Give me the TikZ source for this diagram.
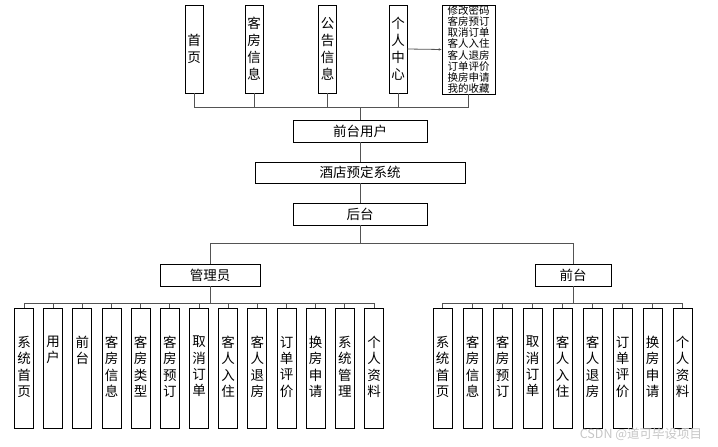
\documentclass[tikz,border=0pt]{standalone}
\usepackage{fontspec}
\newfontfamily\cjk{Noto Sans CJK SC}
\usetikzlibrary{arrows.meta}
\tikzset{
  box/.style={draw=black, line width=0.8pt, fill=white, inner sep=0pt, font=\cjk\fontsize{13.5}{16}\selectfont},
  topbox/.style={box, minimum width=18pt, minimum height=88pt, align=center, font=\cjk\fontsize{13.5}{17}\selectfont},
  leafbox/.style={box, minimum width=19pt, minimum height=120pt},
  leaftext/.style={inner sep=0pt, align=center, anchor=north, font=\cjk\fontsize{13.5}{16.3}\selectfont},
  conn/.style={line width=0.8pt, draw=gray!65!black},
}
\newcommand\twoch[2]{#1\\#2\\\phantom{#2}\\\phantom{#2}}
\begin{document}
\begin{tikzpicture}[x=1pt,y=-1pt]
\useasboundingbox (0,0) rectangle (718,447);
% top row
\node[topbox] (sy) at (194,49) {首\\页};
\node[topbox] (kf) at (254,49) {客\\房\\信\\息};
\node[topbox] (gg) at (327.5,49) {公\\告\\信\\息};
\node[topbox] (gr) at (398,49) {个\\人\\中\\心};
\node[box, minimum width=53pt, minimum height=89pt, align=center, font=\cjk\fontsize{10.5}{11.2}\selectfont] (rb) at (468.5,49.5) {修改密码\\客房预订\\取消订单\\客人入住\\客人退房\\订单评价\\换房申请\\我的收藏};
\draw[conn, -{Stealth[length=3pt,width=2.5pt]}] (gr.east) -- (rb.west);
\coordinate (tb) at (360,107);
\draw[conn] (sy.south) -- (sy.south |- tb) -- (rb.south |- tb) -- (rb.south);
\draw[conn] (kf.south) -- (kf.south |- tb);
\draw[conn] (gg.south) -- (gg.south |- tb);
\draw[conn] (gr.south) -- (gr.south |- tb);
% middle
\node[box, minimum width=134pt, minimum height=22pt] (qt) at (360,131) {前台用户};
\node[box, minimum width=210pt, minimum height=21pt] (sys) at (360,172.5) {酒店预定系统};
\node[box, minimum width=134pt, minimum height=22pt] (ht) at (360,214) {后台};
\draw[conn] (tb) -- (qt.north);
\draw[conn] (qt.south) -- (sys.north);
\draw[conn] (sys.south) -- (ht.north);
\node[box, minimum width=100pt, minimum height=22pt] (gly) at (210,275) {管理员};
\node[box, minimum width=76pt, minimum height=22pt] (qtai) at (573,275) {前台};
\coordinate (mb) at (360,243);
\draw[conn] (ht.south) -- (mb);
\draw[conn] (gly.north) -- (gly.north |- mb) -- (qtai.north |- mb) -- (qtai.north);
% left leaves
\foreach \t [count=\i from 0] in {{系\\统\\首\\页},{\twoch{用}{户}},{\twoch{前}{台}},{客\\房\\信\\息},{客\\房\\类\\型},{客\\房\\预\\订},{取\\消\\订\\单},{客\\人\\入\\住},{客\\人\\退\\房},{订\\单\\评\\价},{换\\房\\申\\请},{系\\统\\管\\理},{个\\人\\资\\料}}{
  \node[leafbox] (L\i) at (24+29.17*\i,368) {};
  \node[leaftext] (Lt\i) at (24+29.17*\i,336) {\t};
}
\coordinate (lb) at (210,303);
\draw[conn] (L0.north) -- (L0.north |- lb) -- (L12.north |- lb) -- (L12.north);
\foreach \i in {1,...,11}{\draw[conn] (L\i.north) -- (L\i.north |- lb);}
\draw[conn] (gly.south) -- (lb);
% right leaves
\foreach \t [count=\i from 0] in {{系\\统\\首\\页},{客\\房\\信\\息},{客\\房\\预\\订},{取\\消\\订\\单},{客\\人\\入\\住},{客\\人\\退\\房},{订\\单\\评\\价},{换\\房\\申\\请},{个\\人\\资\\料}}{
  \node[leafbox] (R\i) at (442.5+30*\i,368) {};
  \node[leaftext] (Rt\i) at (442.5+30*\i,336) {\t};
}
\coordinate (rbus) at (573,303);
\draw[conn] (R0.north) -- (R0.north |- rbus) -- (R8.north |- rbus) -- (R8.north);
\foreach \i in {1,...,7}{\draw[conn] (R\i.north) -- (R\i.north |- rbus);}
\draw[conn] (qtai.south) -- (rbus);
\node[inner sep=0pt, text=gray!45, font=\cjk\fontsize{12.5}{14}\selectfont] (wm) at (641,434) {CSDN @道可毕设项目};
\end{tikzpicture}
\end{document}
